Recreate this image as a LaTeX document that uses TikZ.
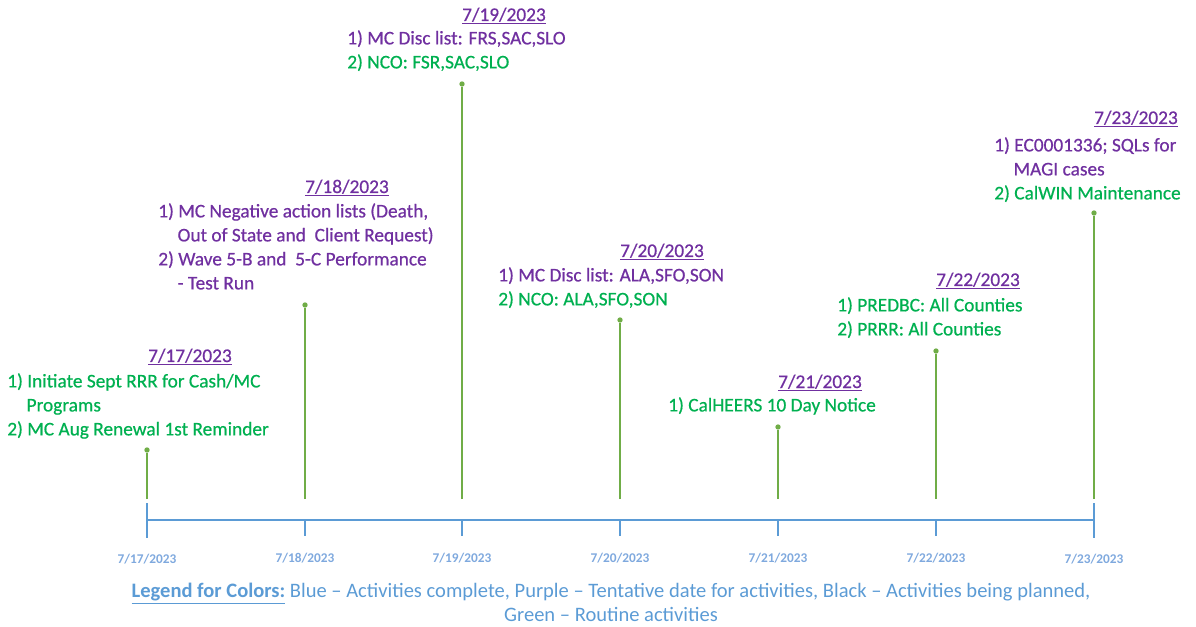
\documentclass[tikz,border=0pt]{standalone}
\usepackage{fontspec}
\setmainfont{Carlito}
\newfontfamily\evfont{Carlito}[FakeBold=0.6]
\usetikzlibrary{positioning}
\definecolor{evpurple}{HTML}{7030A0}
\definecolor{evgreen}{HTML}{00B050}
\definecolor{stemgreen}{HTML}{70AD47}
\definecolor{axisblue}{HTML}{5B9BD5}
\definecolor{ticktext}{HTML}{7FA9DE}
\tikzset{
        datehead/.style={anchor=base, inner sep=0pt, text=evpurple, font=\evfont\fontsize{14.5}{18}\selectfont},
        items/.style={anchor=north west, inner sep=0pt, align=left, font=\evfont\fontsize{14.5}{18}\selectfont},
        stemline/.style={stemgreen, line width=1.1pt},
        stemdot/.style={circle, fill=stemgreen, inner sep=0pt, minimum size=4pt},
        axisline/.style={axisblue, line width=1.1pt},
        ticklabel/.style={inner sep=0pt, text=ticktext, font=\fontsize{10}{12}\selectfont\bfseries},
}

\begin{document}
\begin{tikzpicture}[x=0.75pt,y=-0.75pt]
        \useasboundingbox (0,0) rectangle (1196,627);
        \coordinate(A) at (147,520);
        \coordinate(G) at (1094,520);
        \coordinate(Atop) at (147,503);
        \coordinate(Abot) at (147,538);
        \coordinate(Gtop) at (1094,503);
        \coordinate(Gbot) at (1094,538);
        \coordinate(B) at (305,520);
        \coordinate(C) at (462,520);
        \coordinate(D) at (620,520);
        \coordinate(E) at (778,520);
        \coordinate(F) at (936,520);
        \coordinate(Bbot) at (305,536);
        \coordinate(Cbot) at (462,536);
        \coordinate(Dbot) at (620,536);
        \coordinate(Ebot) at (778,536);
        \coordinate(Fbot) at (936,536);
        \draw[axisline] (A)--(G);
        \draw[axisline] (Atop)--(Abot);
        \draw[axisline] (Gtop)--(Gbot);
        \draw[axisline] (B)--(Bbot);
        \draw[axisline] (C)--(Cbot);
        \draw[axisline] (D)--(Dbot);
        \draw[axisline] (E)--(Ebot);
        \draw[axisline] (F)--(Fbot);
        \node[ticklabel] (ta) at (147,559) {7/17/2023};
        \node[ticklabel] (tb) at (305,558) {7/18/2023};
        \node[ticklabel] (tc) at (462,558) {7/19/2023};
        \node[ticklabel] (td) at (620,558) {7/20/2023};
        \node[ticklabel] (te) at (778,558) {7/21/2023};
        \node[ticklabel] (tf) at (936,558) {7/22/2023};
        \node[ticklabel] (tg) at (1094,559) {7/23/2023};
        \coordinate(a) at (147,499);
        \coordinate(b) at (305,499);
        \coordinate(c) at (462,499);
        \coordinate(d) at (620,499);
        \coordinate(e) at (778,499);
        \coordinate(f) at (936,499);
        \coordinate(g) at (1094,499);
        \node[stemdot] (sa) at (147,450) {};
        \node[stemdot] (sb) at (305,305) {};
        \node[stemdot] (sc) at (462,84) {};
        \node[stemdot] (sd) at (620,320) {};
        \node[stemdot] (se) at (778,427) {};
        \node[stemdot] (sf) at (936,351) {};
        \node[stemdot] (sg) at (1094,213) {};
        \draw[stemline] (a)--(sa);
        \draw[stemline] (b)--(sb);
        \draw[stemline] (c)--(sc);
        \draw[stemline] (d)--(sd);
        \draw[stemline] (e)--(se);
        \draw[stemline] (f)--(sf);
        \draw[stemline] (g)--(sg);
        \node[datehead] (da) at (190,362) {\underline{7/17/2023}};
        \node[datehead] (db) at (347,193) {\underline{7/18/2023}};
        \node[datehead] (dc) at (504,21) {\underline{7/19/2023}};
        \node[datehead] (dd) at (662,257) {\underline{7/20/2023}};
        \node[datehead] (de) at (820,388) {\underline{7/21/2023}};
        \node[datehead] (df) at (978,286) {\underline{7/22/2023}};
        \node[datehead] (dg) at (1136,124) {\underline{7/23/2023}};
        \node[items, text=evgreen] (ia) at (7,373) {1) Initiate Sept RRR for Cash/MC\\\hspace*{1em}Programs\\2) MC Aug Renewal 1st Reminder};
        \node[items, text=evpurple] (ib) at (158,203) {1) MC Negative action lists (Death,\\\hspace*{1em}Out of State and\ \ Client Request)\\2) Wave 5-B and\ \ 5-C Performance\\\hspace*{1em}- Test Run};
        \node[items] (ic) at (347,30) {\textcolor{evpurple}{1) MC Disc list: FRS,SAC,SLO}\\\textcolor{evgreen}{2) NCO: FSR,SAC,SLO}};
        \node[items] (id) at (498,267) {\textcolor{evpurple}{1) MC Disc list: ALA,SFO,SON}\\\textcolor{evgreen}{2) NCO: ALA,SFO,SON}};
        \node[items, text=evgreen] (ie) at (668,397) {1) CalHEERS 10 Day Notice};
        \node[items, text=evgreen] (if) at (837,297) {1) PREDBC: All Counties\\2) PRRR: All Counties};
        \node[items] (ig) at (994,137) {\textcolor{evpurple}{1) EC0001336; SQLs for}\\\textcolor{evpurple}{\hspace*{1em}MAGI cases}\\\textcolor{evgreen}{2) CalWIN Maintenance}};
        \node[anchor=north, inner sep=0pt, align=center, text=axisblue, font=\fontsize{15.4}{18}\selectfont] (legend) at (611,583) {{\bfseries\underline{Legend for Colors:}} Blue -- Activities complete, Purple -- Tentative date for activities, Black -- Activities being planned,\\Green -- Routine activities};
    \end{tikzpicture}
\end{document}
